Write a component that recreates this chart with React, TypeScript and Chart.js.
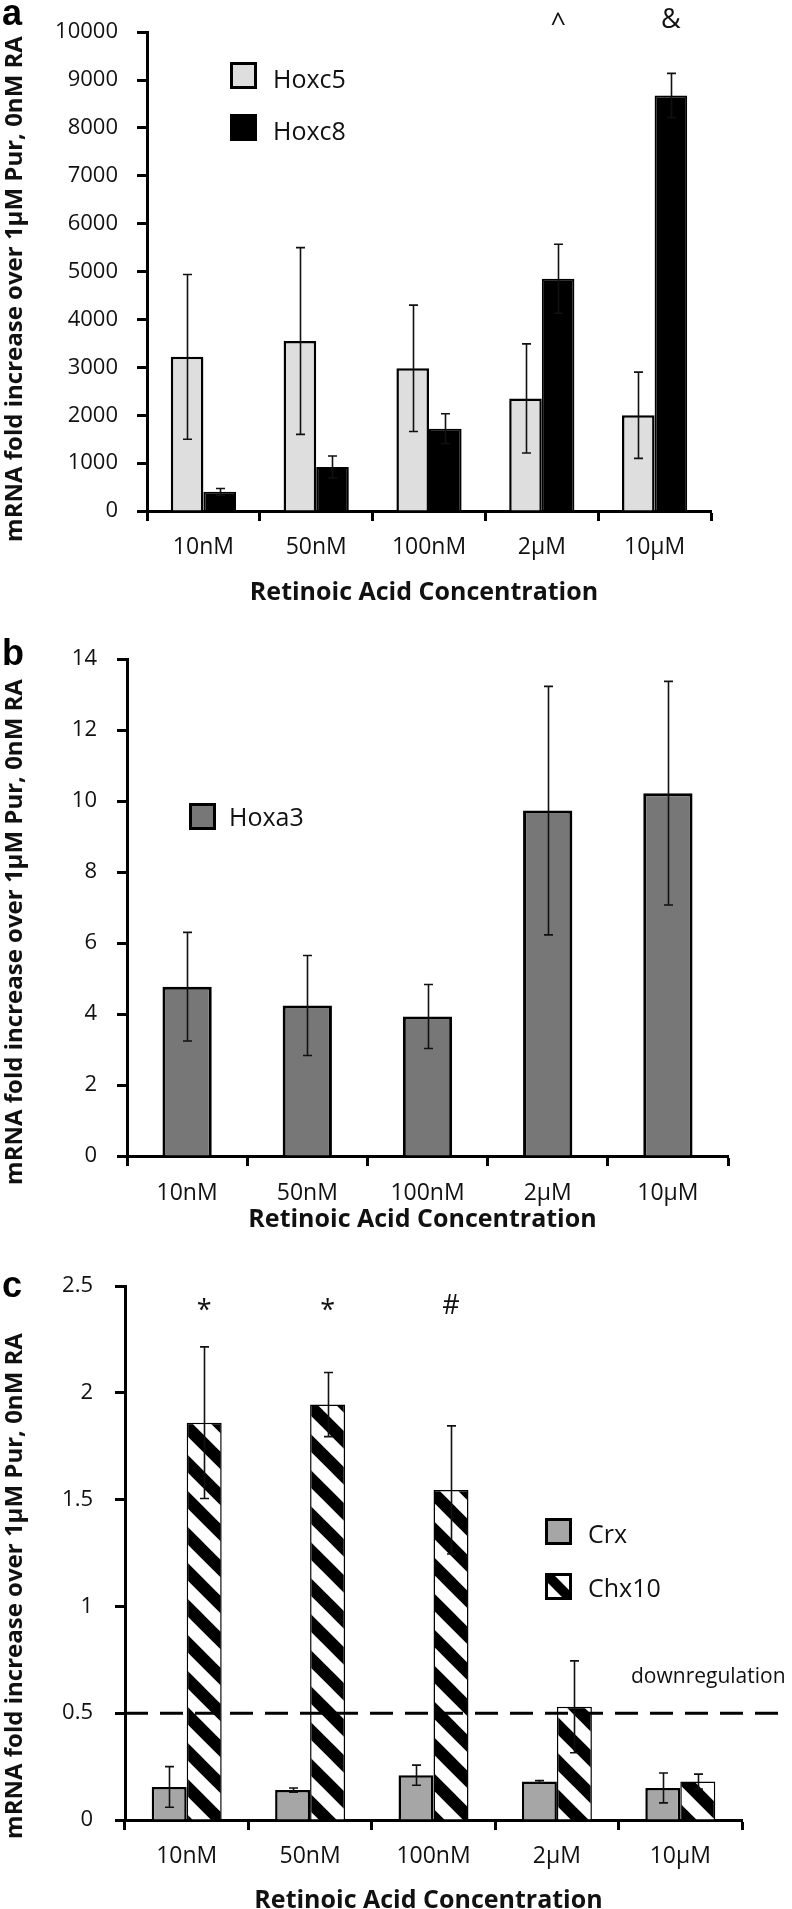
import React, { useEffect, useRef } from 'react';
import { Chart, registerables } from 'chart.js';

Chart.register(...registerables);

// ---------- DATA ----------
const categories = ['10nM', '50nM', '100nM', '2μM', '10μM'];

const hoxc5 = [3220, 3550, 2980, 2350, 2000];
const hoxc5Err = [1720, 1950, 1320, 1140, 900];
const hoxc8 = [400, 920, 1720, 4850, 8680];
const hoxc8Err = [70, 230, 310, 720, 460];
const hoxc8Marks = ['', '', '', '^', '&'];

const hoxa3 = [4.77, 4.24, 3.93, 9.73, 10.22];
const hoxa3Err = [1.53, 1.41, 0.9, 3.5, 3.15];

const crx = [0.155, 0.14, 0.21, 0.18, 0.15];
const crxErr = [0.095, 0.01, 0.047, 0.005, 0.07];
const chx10 = [1.86, 1.945, 1.545, 0.53, 0.18];
const chx10Err = [0.355, 0.15, 0.3, 0.215, 0.035];
const chx10Marks = ['*', '*', '#', '', ''];

const yAxisA = [0, 10000, 1000];
const yAxisB = [0, 14, 2];
const yAxisC = [0, 2.5, 0.5];
const downregulationLevel = 0.5;

const yTitle = 'mRNA fold increase over 1μM Pur, 0nM RA';
const xTitle = 'Retinoic Acid Concentration';

// ---------- STYLE ----------
const W = 792;
const FONT = '"Open Sans", "DejaVu Sans", sans-serif';
const INK = '#111';

function makeHatch(): CanvasPattern | string {
  const p = 36;
  const c = document.createElement('canvas');
  c.width = p;
  c.height = p;
  const g = c.getContext('2d');
  if (!g) return '#888';
  g.fillStyle = '#fff';
  g.fillRect(0, 0, p, p);
  g.strokeStyle = '#000';
  g.lineWidth = 12.5;
  for (let k = -1; k <= 1; k++) {
    g.beginPath();
    g.moveTo(-p, -p + k * p);
    g.lineTo(2 * p, 2 * p + k * p);
    g.stroke();
  }
  return g.createPattern(c, 'repeat') || '#888';
}

type Area = { left: number; right: number; top: number; bottom: number };
type LegendItem = { x: number; y: number; size: number; textX: number; baseline: number; hatch?: boolean };
type Panel = {
  top: number;
  height: number;
  area: Area;
  yAxis: number[];
  catPct: number;
  datasets: any[];
  marks: { ds: number; list: string[]; cy: number }[];
  letter: string;
  letterBaseline: number;
  yTitleCY: number;
  xTitleCY: number;
  legend: LegendItem[];
  tickPadX: number;
  tickPadY: number;
  dashed?: boolean;
};

function centerText(ctx: CanvasRenderingContext2D, text: string, cx: number, cy: number) {
  const m = ctx.measureText(text);
  const asc = m.actualBoundingBoxAscent;
  const desc = m.actualBoundingBoxDescent;
  ctx.textAlign = 'center';
  ctx.textBaseline = 'alphabetic';
  ctx.fillText(text, cx, cy + (asc - desc) / 2);
}

function makeConfig(p: Panel): any {
  const errorBars = {
    id: 'errorBars',
    afterDatasetsDraw(chart: any) {
      const ctx = chart.ctx;
      const ys = chart.scales.y;
      ctx.save();
      ctx.strokeStyle = INK;
      ctx.lineWidth = 1.6;
      chart.data.datasets.forEach((ds: any, i: number) => {
        const meta = chart.getDatasetMeta(i);
        (ds.errorBars || []).forEach((e: number, j: number) => {
          const v = ds.data[j];
          const bar = meta.data[j];
          const x = Math.round(bar.x) + 0.5;
          const y1 = ys.getPixelForValue(v + e);
          const y2 = ys.getPixelForValue(Math.max(v - e, 0));
          ctx.beginPath();
          ctx.moveTo(x, y1);
          ctx.lineTo(x, y2);
          ctx.moveTo(x - 4.5, y1);
          ctx.lineTo(x + 4.5, y1);
          ctx.moveTo(x - 4.5, y2);
          ctx.lineTo(x + 4.5, y2);
          ctx.stroke();
        });
      });
      ctx.restore();
    },
  };

  const decor = {
    id: 'decor',
    afterDraw(chart: any) {
      const ctx = chart.ctx;
      const ca = chart.chartArea;
      const ys = chart.scales.y;
      ctx.save();
      ctx.fillStyle = INK;

      if (p.dashed) {
        const y = ys.getPixelForValue(downregulationLevel);
        ctx.save();
        ctx.strokeStyle = '#000';
        ctx.lineWidth = 3;
        ctx.setLineDash([23, 12]);
        ctx.beginPath();
        ctx.moveTo(ca.left, y);
        ctx.lineTo(786, y);
        ctx.stroke();
        ctx.restore();
        ctx.font = `21px ${FONT}`;
        ctx.textAlign = 'left';
        ctx.textBaseline = 'alphabetic';
        ctx.fillText('downregulation', 631, y - 30);
      }

      // significance marks
      ctx.font = `27px ${FONT}`;
      p.marks.forEach((mk) => {
        const meta = chart.getDatasetMeta(mk.ds);
        mk.list.forEach((s, j) => {
          if (!s) return;
          centerText(ctx, s, meta.data[j].x, mk.cy);
        });
      });

      // legend
      chart.data.datasets.forEach((ds: any, i: number) => {
        const L = p.legend[i];
        if (!L) return;
        if (L.hatch) {
          ctx.save();
          ctx.fillStyle = '#fff';
          ctx.fillRect(L.x, L.y, L.size, L.size);
          ctx.beginPath();
          ctx.rect(L.x, L.y, L.size, L.size);
          ctx.clip();
          ctx.strokeStyle = '#000';
          ctx.lineWidth = 10;
          ctx.beginPath();
          ctx.moveTo(L.x - 4, L.y - 4);
          ctx.lineTo(L.x + L.size + 4, L.y + L.size + 4);
          ctx.stroke();
          ctx.restore();
        } else {
          ctx.fillStyle = ds.backgroundColor;
          ctx.fillRect(L.x, L.y, L.size, L.size);
        }
        ctx.strokeStyle = '#000';
        ctx.lineWidth = 3;
        ctx.strokeRect(L.x + 1.5, L.y + 1.5, L.size - 3, L.size - 3);
        ctx.fillStyle = INK;
        ctx.font = `25px ${FONT}`;
        ctx.textAlign = 'left';
        ctx.textBaseline = 'alphabetic';
        ctx.fillText(ds.label, L.textX, L.baseline);
      });

      // panel letter
      ctx.fillStyle = '#000';
      ctx.font = `bold 36px "Liberation Sans", Arial, sans-serif`;
      ctx.textAlign = 'left';
      ctx.textBaseline = 'alphabetic';
      ctx.fillText(p.letter, 2, p.letterBaseline);

      // axis titles
      ctx.fillStyle = INK;
      ctx.font = `bold 25px ${FONT}`;
      centerText(ctx, xTitle, (ca.left + ca.right) / 2 - 5, p.xTitleCY);
      ctx.font = `bold 24px ${FONT}`;
      ctx.save();
      ctx.translate(16, p.yTitleCY);
      ctx.rotate(-Math.PI / 2);
      centerText(ctx, yTitle, 0, 0);
      ctx.restore();

      ctx.restore();
    },
  };

  const yTickFont = { family: FONT, size: 22 };
  const xTickFont = { family: FONT, size: 23 };
  return {
    type: 'bar',
    data: { labels: categories, datasets: p.datasets },
    plugins: [errorBars, decor],
    options: {
      responsive: false,
      animation: false,
      events: [],
      layout: { padding: { left: 0, top: p.area.top, right: W - p.area.right, bottom: 0 } },
      plugins: { legend: { display: false }, tooltip: { enabled: false }, title: { display: false } },
      datasets: { bar: { categoryPercentage: p.catPct, barPercentage: 1 } },
      scales: {
        x: {
          offset: true,
          grid: { offset: true, drawOnChartArea: false, drawTicks: true, tickLength: 10, tickWidth: 3, tickColor: '#000' },
          border: { display: true, width: 3, color: '#000' },
          ticks: { font: xTickFont, color: INK, padding: p.tickPadX, maxRotation: 0 },
          afterFit: (s: any) => {
            s.height = p.height - p.area.bottom;
          },
        },
        y: {
          min: p.yAxis[0],
          max: p.yAxis[1],
          grid: { drawOnChartArea: false, drawTicks: true, tickLength: 10, tickWidth: 3, tickColor: '#000' },
          border: { display: true, width: 3, color: '#000' },
          ticks: { stepSize: p.yAxis[2], font: yTickFont, color: INK, padding: p.tickPadY, callback: (v: any) => String(v) },
          afterFit: (s: any) => {
            s.width = p.area.left;
          },
        },
      },
    },
  };
}

function PanelChart({ build }: { build: () => Panel }) {
  const ref = useRef<HTMLCanvasElement | null>(null);
  const spec = build();
  useEffect(() => {
    if (!ref.current) return;
    const chart = new Chart(ref.current, makeConfig(build()));
    return () => chart.destroy();
  }, []);
  return (
    <canvas
      ref={ref}
      width={W}
      height={spec.height}
      style={{ position: 'absolute', left: 0, top: spec.top, width: W, height: spec.height, display: 'block' }}
    />
  );
}

const buildA = (): Panel => ({
  top: 0,
  height: 610,
  area: { left: 147, right: 711, top: 20, bottom: 511 },
  yAxis: yAxisA,
  catPct: 0.578,
  datasets: [
    { label: 'Hoxc5', data: hoxc5, errorBars: hoxc5Err, backgroundColor: '#dedede', borderColor: '#000', borderWidth: 2.5 },
    { label: 'Hoxc8', data: hoxc8, errorBars: hoxc8Err, backgroundColor: '#000', borderColor: '#000', borderWidth: 2 },
  ],
  marks: [{ ds: 1, list: hoxc8Marks, cy: 18 }],
  letter: 'a',
  letterBaseline: 25,
  yTitleCY: 289,
  xTitleCY: 590,
  legend: [
    { x: 230, y: 62, size: 27, textX: 273, baseline: 88 },
    { x: 230, y: 114, size: 27, textX: 273, baseline: 140 },
  ],
  tickPadX: 13,
  tickPadY: 19,
});

const buildB = (): Panel => ({
  top: 610,
  height: 630,
  area: { left: 127, right: 728, top: 49, bottom: 546 },
  yAxis: yAxisB,
  catPct: 0.41,
  datasets: [{ label: 'Hoxa3', data: hoxa3, errorBars: hoxa3Err, backgroundColor: '#777777', borderColor: '#000', borderWidth: 3 }],
  marks: [],
  letter: 'b',
  letterBaseline: 55,
  yTitleCY: 322,
  xTitleCY: 607,
  legend: [{ x: 189, y: 193, size: 27, textX: 229, baseline: 216 }],
  tickPadX: 14,
  tickPadY: 20,
});

const buildC = (hatch: () => any) => (): Panel => ({
  top: 1240,
  height: 669,
  area: { left: 125, right: 742, top: 46, bottom: 580 },
  yAxis: yAxisC,
  catPct: 0.567,
  datasets: [
    { label: 'Crx', data: crx, errorBars: crxErr, backgroundColor: '#a6a6a6', borderColor: '#000', borderWidth: 2.5 },
    { label: 'Chx10', data: chx10, errorBars: chx10Err, backgroundColor: hatch(), borderColor: '#000', borderWidth: 1.5 },
  ],
  marks: [{ ds: 1, list: chx10Marks, cy: 64 }],
  letter: 'c',
  letterBaseline: 57,
  yTitleCY: 346,
  xTitleCY: 658,
  legend: [
    { x: 545, y: 278, size: 27, textX: 588, baseline: 303 },
    { x: 545, y: 333, size: 27, textX: 588, baseline: 357, hatch: true },
  ],
  tickPadX: 13,
  tickPadY: 22,
  dashed: true,
});

export default function App() {
  return (
    <div style={{ position: 'absolute', left: 0, top: 0, width: W, height: 1909, background: '#fff', overflow: 'hidden' }}>
      <PanelChart build={buildA} />
      <PanelChart build={buildB} />
      <PanelChart build={buildC(() => (typeof document !== 'undefined' ? makeHatch() : '#888'))} />
    </div>
  );
}
